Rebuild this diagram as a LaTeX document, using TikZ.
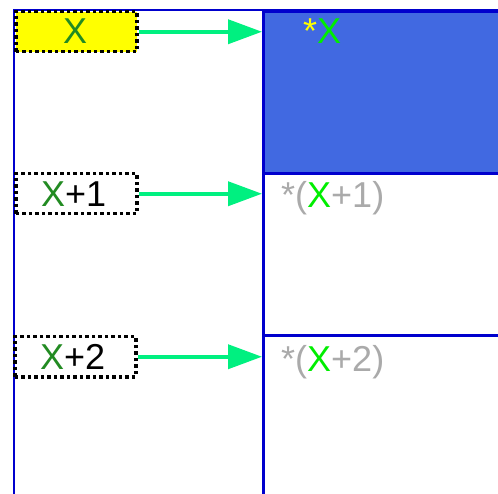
\documentclass[tikz,border=0pt]{standalone}
\usepackage{fontspec}
\setmainfont{Liberation Sans}
\usetikzlibrary{arrows.meta}
\definecolor{cellblue}{RGB}{65,105,225}
\definecolor{edgeblue}{RGB}{0,0,205}
\definecolor{arrowgreen}{RGB}{0,240,128}
\definecolor{darkgreen}{RGB}{34,139,34}
\definecolor{litegreen}{RGB}{0,238,0}
\definecolor{greytext}{RGB}{170,170,170}
\definecolor{yel}{RGB}{255,255,0}
\tikzset{
  ptr/.style={draw=black, dash pattern=on 3.5pt off 3pt, line width=3.5pt, minimum width=121pt, minimum height=40pt, inner sep=0pt, anchor=north west},
  cell/.style={draw=edgeblue, line width=2.8pt, minimum width=260pt, minimum height=170pt, inner sep=0pt, anchor=north west},
  link/.style={draw=arrowgreen, line width=3.8pt, -{Triangle[length=34pt,width=24pt]}},
  txt/.style={inner sep=0pt, anchor=base west, font=\fontsize{36}{40}\selectfont}
}
\begin{document}
\begin{tikzpicture}[x=1pt,y=-1pt]
\useasboundingbox (0,0) rectangle (498,494);
\fill[white] (0,0) rectangle (498,494);
% outer frame
\draw[edgeblue, line width=2.8pt] (14,500) -- (14,10) -- (510,10);
\node[cell, fill=cellblue, minimum height=162pt] (c0) at (262,10) {};
\node[cell, minimum height=162pt] (c1) at (262,172) {};
\node[cell] (c2) at (262,334) {};
% pointer boxes
\node[ptr, fill=yel] (p0) at (14,10) {};
\node[ptr] (p1) at (14,172) {};
\node[ptr] (p2) at (13,335) {};
\node[txt, text=darkgreen] (t0) at (63,44) {X};
\node[txt] (t1) at (41,207) {\textcolor{darkgreen}{X}+1};
\node[txt] (t2) at (40,370) {\textcolor{darkgreen}{X}+2};
% cell texts
\node[txt] (s0) at (303,44) {\textcolor{yel}{*}\textcolor{litegreen}{X}};
\node[txt, text=greytext] (s1) at (281,208) {*(\textcolor{litegreen}{X}+1)};
\node[txt, text=greytext] (s2) at (281,371) {*(\textcolor{litegreen}{X}+2)};
% arrows
\draw[link] (p0.east) -- (c0.west |- p0.east);
\draw[link] (p1.east) -- (c1.west |- p1.east);
\draw[link] (p2.east) -- (c2.west |- p2.east);
\end{tikzpicture}
\end{document}
